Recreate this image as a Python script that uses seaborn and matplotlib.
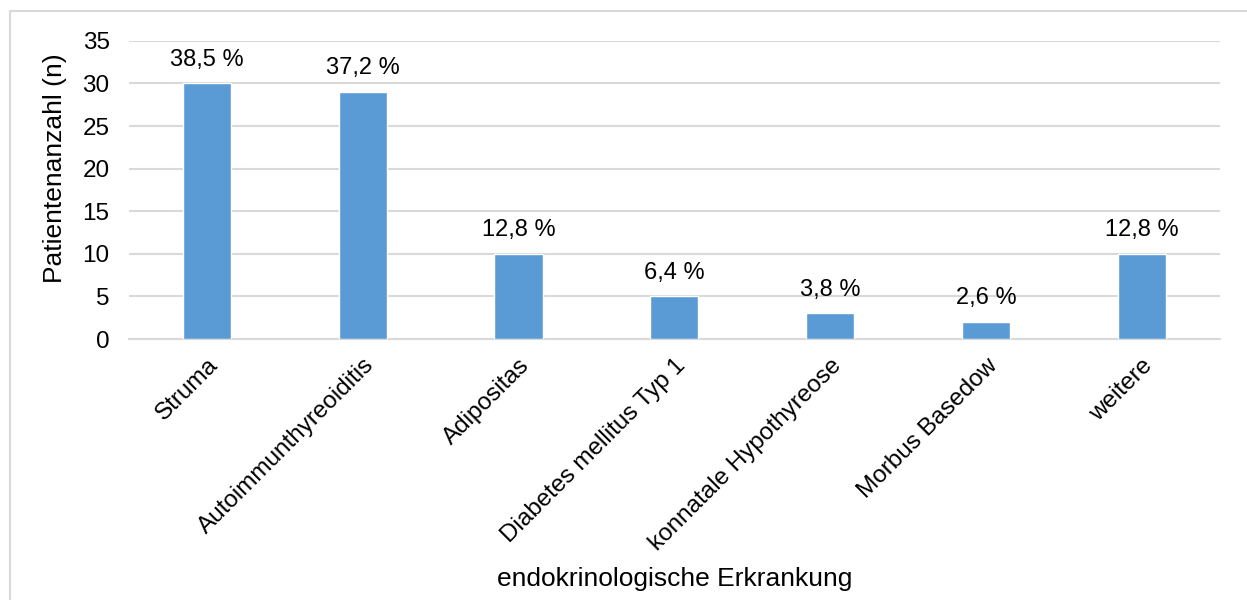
import matplotlib
matplotlib.use("Agg")
import matplotlib.pyplot as plt
import seaborn as sns
import pandas as pd
from matplotlib.patches import Rectangle

# Data
categories = ["Struma", "Autoimmunthyreoiditis", "Adipositas", "Diabetes mellitus Typ 1",
              "konnatale Hypothyreose", "Morbus Basedow", "weitere"]
patients = [30, 29, 10, 5, 3, 2, 10]
percent_labels = ["38,5 %", "37,2 %", "12,8 %", "6,4 %", "3,8 %", "2,6 %", "12,8 %"]
y_ticks = [0, 5, 10, 15, 20, 25, 30, 35]

df = pd.DataFrame({"Erkrankung": categories, "Patienten": patients})

sns.set_theme(style="white")
plt.rcParams["font.family"] = ["Liberation Sans", "DejaVu Sans"]
plt.rcParams["text.color"] = "black"

grid_col = "#d9d9d9"
bar_col = "#5b9bd5"

fig = plt.figure(figsize=(12.47, 6.0), dpi=100)
ax = fig.add_axes([0.1035, 0.435, 0.8745, 0.497])

sns.barplot(data=df, x="Erkrankung", y="Patienten", color=bar_col, width=0.31,
            saturation=1, ax=ax, zorder=3)

ax.set_ylim(0, 35)
ax.set_yticks(y_ticks)
ax.set_xlim(-0.5, len(categories) - 0.5)
ax.yaxis.grid(True, color=grid_col, linewidth=1.5, zorder=0)
ax.set_axisbelow(True)
for side in ["top", "right", "left"]:
    ax.spines[side].set_visible(False)
ax.spines["bottom"].set_color(grid_col)
ax.spines["bottom"].set_linewidth(1.5)

ax.tick_params(axis="both", length=0, labelsize=17.5, colors="black")
ax.tick_params(axis="y", pad=14)
ax.tick_params(axis="x", pad=11)
plt.setp(ax.get_xticklabels(), rotation=45, ha="right", rotation_mode="anchor")

ax.bar_label(ax.containers[0], labels=percent_labels, padding=9, fontsize=17, color="black")

ax.set_ylabel("Patientenanzahl (n)", fontsize=19, color="black")
ax.yaxis.set_label_coords(-0.057, 0.574)
ax.set_xlabel("endokrinologische Erkrankung", fontsize=19, color="black")
ax.xaxis.set_label_coords(0.5, -0.765)

# light frame around the chart area
fig.patches.append(Rectangle((10 / 1247, -0.05), 1.1, 1 - 11 / 600 + 0.05,
                             transform=fig.transFigure, fill=False,
                             edgecolor=grid_col, linewidth=1.5))

fig.savefig("out.png", dpi=100)
